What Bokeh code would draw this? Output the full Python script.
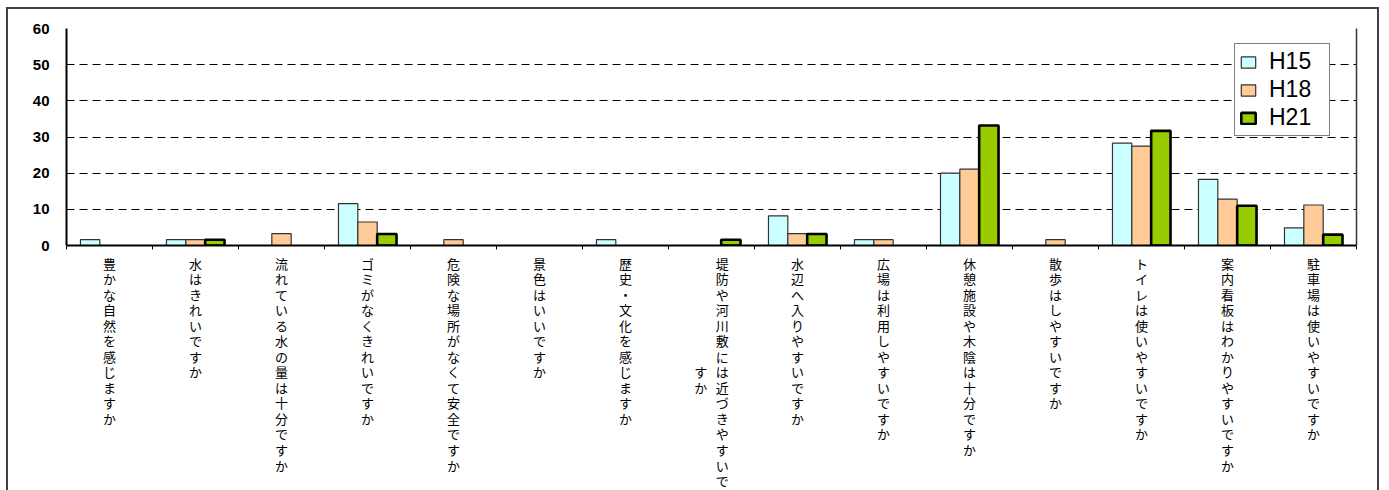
from bokeh.plotting import figure
from bokeh.models import (ColumnDataSource, FixedTicker, LinearAxis, Legend,
                          LegendItem, Range1d)
from bokeh.embed import file_html
from bokeh.resources import INLINE

# ---------------- data ----------------
categories = [
    "豊かな自然を感じますか",
    "水はきれいですか",
    "流れている水の量は十分ですか",
    "ゴミがなくきれいですか",
    "危険な場所がなくて安全ですか",
    "景色はいいですか",
    "歴史・文化を感じますか",
    "堤防や河川敷には近づきやすいですか",
    "水辺へ入りやすいですか",
    "広場は利用しやすいですか",
    "休憩施設や木陰は十分ですか",
    "散歩はしやすいですか",
    "トイレは使いやすいですか",
    "案内看板はわかりやすいですか",
    "駐車場は使いやすいですか",
]
series_names = ["H15", "H18", "H21"]
h15 = [1.6, 1.6, 0, 11.6, 0, 0, 1.6, 0, 8.2, 1.6, 20.0, 0, 28.3, 18.3, 4.9]
h18 = [0, 1.6, 3.3, 6.5, 1.6, 0, 0, 0, 3.3, 1.6, 21.1, 1.6, 27.5, 12.8, 11.2]
h21 = [0, 1.6, 0, 3.2, 0, 0, 0, 1.6, 3.2, 0, 33.2, 0, 31.7, 11.0, 3.0]
y_ticks = [0, 10, 20, 30, 40, 50, 60]

# ---------------- styles ----------------
fills = ["#CCFFFF", "#FFCC99", "#99CC00"]
lines = ["#333333", "#333333", "#000000"]
lwidths = [1.2, 1.2, 2.6]
offsets = [-0.225, 0.0, 0.225]
bar_w = 0.225
max_col = 15          # characters per vertical column
col_shift = 0.125     # horizontal shift of the two columns of a wrapped label

n = len(categories)
p = figure(frame_width=1290, frame_height=217, x_range=Range1d(0, n),
           y_range=Range1d(0, 60), output_backend="svg", toolbar_location=None,
           min_border_left=58, min_border_right=21, min_border_top=19,
           min_border_bottom=244)
p.styles = {"margin-left": "6px", "margin-top": "7px",
            "border-left": "2px solid #404040", "border-top": "2px solid #404040",
            "border-right": "2px solid #404040"}
p.outline_line_color = None
p.background_fill_color = "white"
p.border_fill_color = "white"

# grid
p.xgrid.visible = False
p.ygrid.ticker = FixedTicker(ticks=y_ticks)
p.ygrid.grid_line_color = "#000000"
p.ygrid.grid_line_dash = "8 5"
p.ygrid.grid_line_width = 1

# y axis
ya = p.yaxis[0]
ya.ticker = FixedTicker(ticks=y_ticks)
ya.major_tick_out = 0
ya.major_tick_in = 0
ya.minor_tick_out = 0
ya.minor_tick_in = 0
ya.axis_line_width = 2
ya.axis_line_color = "#000000"
ya.major_label_text_font = "Liberation Sans"
ya.major_label_text_font_style = "bold"
ya.major_label_text_font_size = "15px"
ya.major_label_text_color = "#000000"
ya.major_label_standoff = 17

# right frame line
ra = LinearAxis(ticker=FixedTicker(ticks=[]), axis_line_color="#333333",
                axis_line_width=1.5, major_tick_out=0, major_tick_in=0,
                minor_tick_out=0, minor_tick_in=0)
p.add_layout(ra, "right")

# x axis: vertical labels (one character per line)
xa = p.xaxis[0]
ticks = []
overrides = {}
for i, lab in enumerate(categories):
    c = i + 0.5
    if len(lab) > max_col:
        first, rest = lab[:max_col], lab[max_col:]
        pad = (max_col - len(rest) + 1) // 2
        ticks += [c + col_shift, c - col_shift]
        overrides[c + col_shift] = "\n".join(first)
        overrides[c - col_shift] = "\n" * pad + "\n".join(rest)
    else:
        ticks.append(c)
        overrides[c] = "\n".join(lab)
xa.ticker = FixedTicker(ticks=ticks, minor_ticks=list(range(n + 1)))
xa.major_label_overrides = overrides
xa.major_tick_out = 0
xa.major_tick_in = 0
xa.minor_tick_out = 4
xa.minor_tick_in = 0
xa.axis_line_width = 2
xa.axis_line_color = "#000000"
xa.minor_tick_line_color = "#000000"
xa.major_label_text_font = "Noto Sans CJK JP"
xa.major_label_text_font_size = "13px"
xa.major_label_text_line_height = 0.818
xa.major_label_text_color = "#000000"
xa.major_label_standoff = 4

# bars
renderers = []
for vals, name, fc, lc, lw, off in zip([h15, h18, h21], series_names, fills, lines,
                                       lwidths, offsets):
    xs = [i + 0.5 + off for i, v in enumerate(vals) if v > 0]
    tops = [v for v in vals if v > 0]
    src = ColumnDataSource(dict(x=xs, top=tops))
    r = p.vbar(x="x", top="top", bottom=0, width=bar_w, source=src,
               fill_color=fc, line_color=lc, line_width=lw)
    renderers.append((name, r))

legend = Legend(items=[LegendItem(label=nm, renderers=[r]) for nm, r in renderers],
                location=(1168, 109))
legend.label_text_font = "Liberation Sans"
legend.label_text_font_size = "23px"
legend.label_text_color = "#000000"
legend.glyph_width = 18
legend.glyph_height = 14
legend.label_height = 22
legend.label_width = 56
legend.label_standoff = 12
legend.spacing = 1
legend.padding = 4
legend.margin = 0
legend.border_line_color = "#000000"
legend.border_line_width = 1
legend.background_fill_color = "white"
legend.background_fill_alpha = 1
p.add_layout(legend)

open("out.html", "w").write(file_html(p, INLINE))
